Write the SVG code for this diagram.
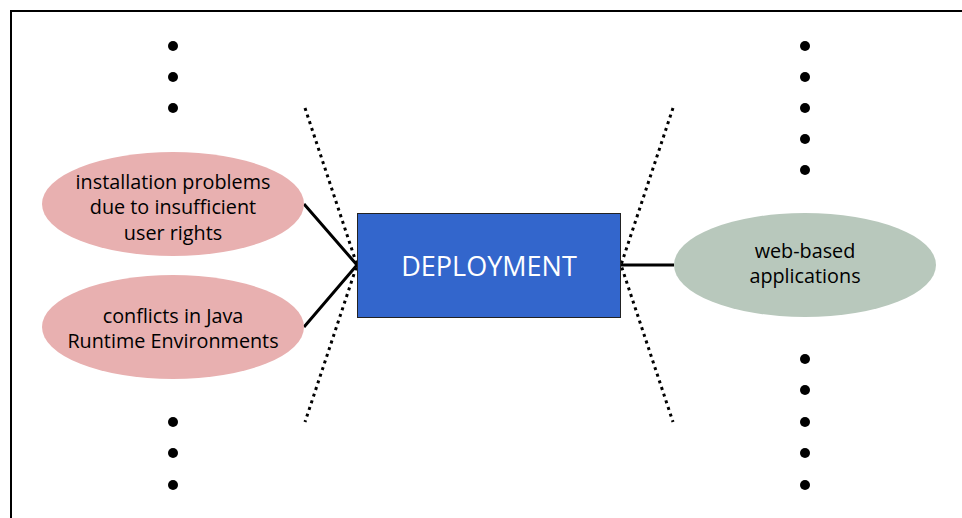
<svg xmlns="http://www.w3.org/2000/svg" width="962" height="518" viewBox="0 0 962 518">
<style>
.t{font-family:"Open Sans","DejaVu Sans",sans-serif;font-size:19.8px;fill:#000;text-anchor:middle}
.pink{fill:#e8b0b0}
.green{fill:#b8c8bc}
.dot{fill:#000}
.dash{stroke:#000;stroke-width:3;stroke-dasharray:3 4;fill:none}
.ln{stroke:#000;stroke-width:3;fill:none}
</style>
<rect width="962" height="518" fill="#fff"/>
<path d="M11 518 V11 H962" fill="none" stroke="#000" stroke-width="2"/>
<g id="dots">
<circle class="dot" cx="173" cy="46" r="5"/><circle class="dot" cx="173" cy="77" r="5"/><circle class="dot" cx="173" cy="108" r="5"/>
<circle class="dot" cx="173" cy="422" r="5"/><circle class="dot" cx="173" cy="453" r="5"/><circle class="dot" cx="173" cy="485" r="5"/>
<circle class="dot" cx="805" cy="46" r="5"/><circle class="dot" cx="805" cy="77" r="5"/><circle class="dot" cx="805" cy="108" r="5"/><circle class="dot" cx="805" cy="139" r="5"/><circle class="dot" cx="805" cy="170" r="5"/>
<circle class="dot" cx="805" cy="359" r="5"/><circle class="dot" cx="805" cy="390" r="5"/><circle class="dot" cx="805" cy="422" r="5"/><circle class="dot" cx="805" cy="453" r="5"/><circle class="dot" cx="805" cy="485" r="5"/>
</g>
<g id="connectors">
<path class="dash" d="M305 108 L357 265 L305 422"/>
<path class="dash" d="M673 108 L621 265 L673 422"/>
<path class="ln" d="M304 204 L357 265 L304 327"/>
<path class="ln" d="M621 265 H674"/>
</g>
<g id="n1">
<ellipse class="pink" cx="173" cy="204" rx="131" ry="52"/>
<text class="t" x="173" y="189">installation problems</text>
<text class="t" x="173" y="214">due to insufficient</text>
<text class="t" x="173" y="240">user rights</text>
</g>
<g id="n2">
<ellipse class="pink" cx="173" cy="327" rx="131" ry="52"/>
<text class="t" x="173" y="323">conflicts in Java</text>
<text class="t" x="173" y="348">Runtime Environments</text>
</g>
<g id="deploy">
<rect x="357.5" y="213.5" width="263" height="104" fill="#3366cc" stroke="#222" stroke-width="1"/>
<text x="489" y="276" style="font-family:'Open Sans','DejaVu Sans',sans-serif;font-size:27px;fill:#fff;text-anchor:middle">DEPLOYMENT</text>
</g>
<g id="n3">
<ellipse class="green" cx="805" cy="265" rx="131" ry="52"/>
<text class="t" x="805" y="258">web-based</text>
<text class="t" x="805" y="283">applications</text>
</g>
</svg>
